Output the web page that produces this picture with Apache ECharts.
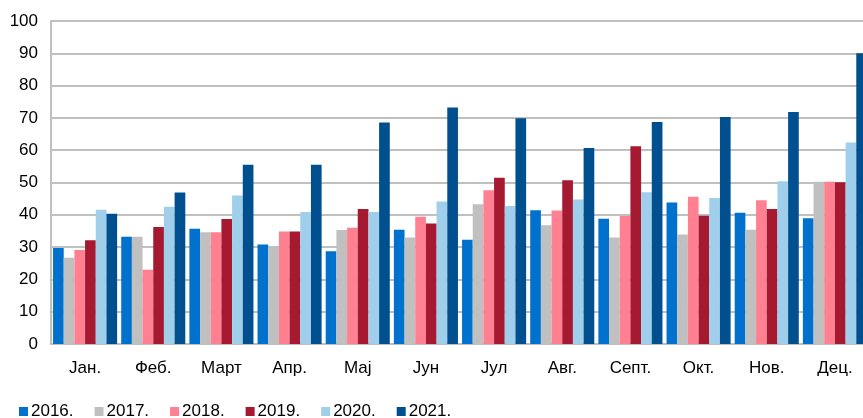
<!DOCTYPE html>
<html><head><meta charset="utf-8">
<script src="https://cdn.jsdelivr.net/npm/echarts@6/dist/echarts.min.js"></script>
<style>html,body{margin:0;padding:0;background:#fff;overflow:hidden;width:863px;height:418px}#c{width:873px;height:418px}</style>
</head><body><div id="c"></div>
<script>
const categories = ['Јан.','Феб.','Март','Апр.','Мај','Јун','Јул','Авг.','Септ.','Окт.','Нов.','Дец.'];
const years = ['2016.','2017.','2018.','2019.','2020.','2021.'];
const v2016 = [29.7, 33.2, 35.7, 30.8, 28.7, 35.4, 32.3, 41.4, 38.8, 43.8, 40.6, 38.9];
const v2017 = [26.7, 33.2, 34.6, 30.2, 35.3, 33.0, 43.3, 36.8, 33.0, 33.9, 35.4, 50.2];
const v2018 = [29.1, 23.0, 34.6, 34.8, 36.0, 39.4, 47.6, 41.3, 39.6, 45.6, 44.5, 50.2];
const v2019 = [32.1, 36.2, 38.7, 34.8, 41.8, 37.3, 51.5, 50.7, 61.2, 39.7, 41.8, 50.1];
const v2020 = [41.6, 42.5, 46.0, 40.9, 40.9, 44.1, 42.7, 44.7, 47.0, 45.2, 50.4, 62.4];
const v2021 = [40.3, 46.9, 55.5, 55.5, 68.6, 73.2, 69.9, 60.7, 68.7, 70.3, 71.8, 90.0];
const yTicks = [0,10,20,30,40,50,60,70,80,90,100];

const allValues = [v2016, v2017, v2018, v2019, v2020, v2021];
const colors = ['#0072CE','#C0C0C0','#FF8090','#A51931','#A0CFEC','#00508F'];
const font = 'Arial, "Liberation Sans", sans-serif';

const chart = echarts.init(document.getElementById('c'), null, {renderer:'canvas'});
chart.setOption({
  animation:false,
  color: colors,
  grid:{left:51, right:4, top:21, bottom:74, containLabel:false},
  legend:{
    left:14, top:398, itemWidth:9, itemHeight:9, itemGap:21,
    icon:'rect',
    textStyle:{fontFamily:font, fontSize:17, color:'#000', padding:[0,0,0,-2]},
    data: years
  },
  xAxis:{
    type:'category', data:categories,
    axisLine:{show:true, lineStyle:{color:'#C0C0C0', width:2}},
    axisTick:{show:false},
    axisLabel:{fontFamily:font, fontSize:17, color:'#000', margin:16}
  },
  yAxis:{
    type:'value', min:yTicks[0], max:yTicks[yTicks.length-1], interval:10,
    axisLine:{show:true, lineStyle:{color:'#C0C0C0', width:2}},
    axisTick:{show:false},
    splitLine:{show:true, lineStyle:{color:'#C0C0C0', width:2}},
    axisLabel:{fontFamily:font, fontSize:17, color:'#000', margin:13}
  },
  series: years.map((y,i)=>({
    name:y, type:'bar', data:allValues[i],
    barGap:'0%', barCategoryGap:'6%',
    itemStyle:{color:colors[i]}
  }))
});
</script></body></html>
